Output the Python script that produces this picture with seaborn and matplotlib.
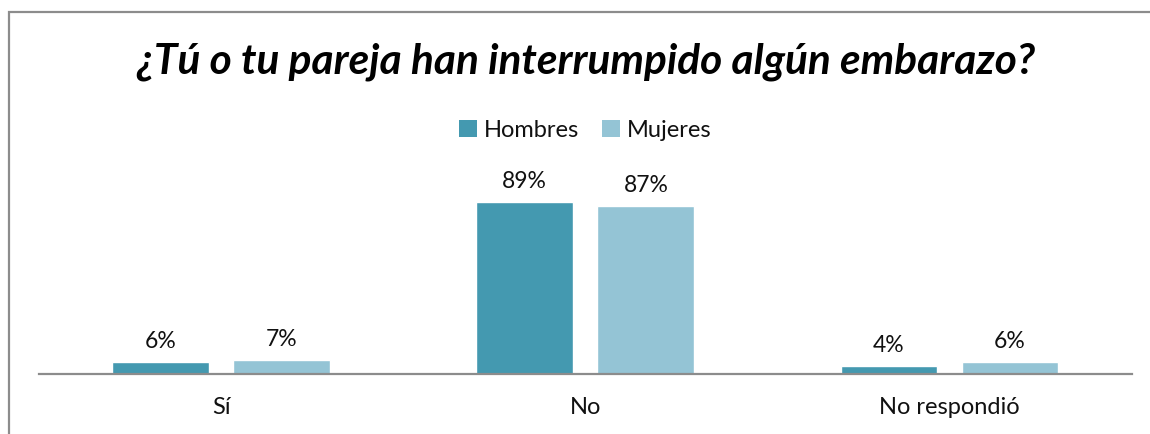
import pandas as pd
import matplotlib.pyplot as plt
import seaborn as sns
from matplotlib.patches import Rectangle, Patch

sns.set_theme(style="white")
plt.rcParams['font.family'] = ['Lato', 'Open Sans', 'DejaVu Sans']

categorias = ['Sí', 'No', 'No respondió']
hombres = [6, 89, 4]
mujeres = [7, 87, 6]
grupos = ['Hombres', 'Mujeres']
colores = {'Hombres': '#4499B0', 'Mujeres': '#94C4D5'}

df = pd.DataFrame({
    'Respuesta': categorias * 2,
    'Grupo': ['Hombres'] * 3 + ['Mujeres'] * 3,
    'Porcentaje': hombres + mujeres,
})

fig = plt.figure(figsize=(11.5, 4.35), dpi=100)
ax = fig.add_axes([0.034, 0.138, 0.950, 0.444])

sns.barplot(data=df, x='Respuesta', y='Porcentaje', hue='Grupo', order=categorias,
            hue_order=grupos, palette=colores, width=0.665, gap=0.2, ax=ax,
            legend=False, saturation=1)

for c in ax.containers:
    ax.bar_label(c, labels=[f'{v:.0f}%' for v in c.datavalues], padding=8,
                 fontsize=16.5, color='#111111')

ax.set_ylim(0, 100)
ax.set_xlim(-0.5, 2.5)
ax.set_xlabel('')
ax.set_ylabel('')
ax.set_yticks([])
for s in ['top', 'left', 'right']:
    ax.spines[s].set_visible(False)
ax.spines['bottom'].set_color('#8c8c8c')
ax.spines['bottom'].set_linewidth(1.6)
ax.tick_params(axis='x', length=0, pad=16, labelsize=17, labelcolor='#111111')

handles = [Patch(facecolor=colores[g], edgecolor='none') for g in grupos]
fig.legend(handles, grupos, loc='center', bbox_to_anchor=(0.509, 0.699), ncol=2,
           frameon=False, fontsize=17, handlelength=0.75, handleheight=0.75,
           handletextpad=0.3, columnspacing=1.0, labelcolor='#111111')

fig.text(0.509, 0.857, '¿Tú o tu pareja han interrumpido algún embarazo?',
         ha='center', va='center', fontsize=30.5, fontweight='bold', fontstyle='italic',
         color='black')

fig.patches.append(Rectangle((0.008, -0.1), 1.2, 1.07, transform=fig.transFigure,
                             fill=False, edgecolor='#8c8c8c', linewidth=1.6))

fig.savefig('out.png', dpi=100)
